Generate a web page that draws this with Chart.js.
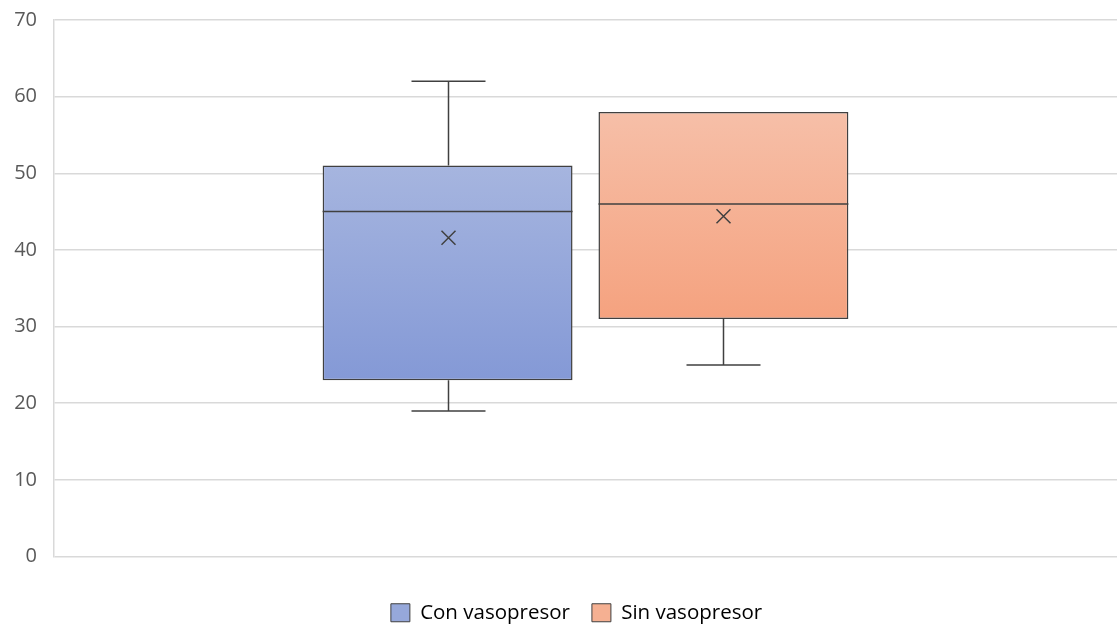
<!DOCTYPE html>
<html>
<head>
<meta charset="utf-8">
<script src="https://cdn.jsdelivr.net/npm/chart.js@4.4.1/dist/chart.umd.min.js"></script>
<style>
  html, body { margin: 0; padding: 0; background: #ffffff; }
  #wrap { width: 1117px; height: 626px; }
</style>
</head>
<body>
<div id="wrap"><canvas id="c" width="1117" height="626"></canvas></div>
<script>
// Box plot summary per group
const groups = ['Con vasopresor', 'Sin vasopresor'];
const minValues = [19, 25];
const q1Values = [23, 31];
const medianValues = [45, 46];
const q3Values = [51, 58];
const maxValues = [62, 58];
const meanValues = [41.6, 44.4];
const yTicks = [0, 10, 20, 30, 40, 50, 60, 70];

const gradStops = [
  ['#a6b5df', '#8499d6'],
  ['#f6bfa8', '#f5a27f']
];
const legendFill = ['#96a8da', '#f5b092'];
const strokeColor = '#404040';

function boxGradient(i) {
  return (ctx) => {
    const chart = ctx.chart;
    if (!chart.chartArea) return gradStops[i][0];
    const y = chart.scales.y;
    const top = y.getPixelForValue(q3Values[i]);
    const bottom = y.getPixelForValue(q1Values[i]);
    const g = chart.ctx.createLinearGradient(0, top, 0, bottom);
    g.addColorStop(0, gradStops[i][0]);
    g.addColorStop(1, gradStops[i][1]);
    return g;
  };
}

// Whiskers, median line and mean marker drawn over the floating bars
const boxExtras = {
  id: 'boxExtras',
  afterDatasetsDraw(chart) {
    const c = chart.ctx;
    const y = chart.scales.y;
    c.save();
    c.strokeStyle = strokeColor;
    c.lineWidth = 1.5;
    groups.forEach((g, i) => {
      const bar = chart.getDatasetMeta(i).data[0];
      if (!bar) return;
      const cx = Math.round(bar.x) + 0.5;
      const half = bar.width / 2;
      const cap = 37;
      const yMin = y.getPixelForValue(minValues[i]);
      const yQ1 = y.getPixelForValue(q1Values[i]);
      const yQ3 = y.getPixelForValue(q3Values[i]);
      const yMax = y.getPixelForValue(maxValues[i]);
      const yMed = y.getPixelForValue(medianValues[i]);
      const yMean = y.getPixelForValue(meanValues[i]);
      c.beginPath();
      if (maxValues[i] > q3Values[i]) {
        c.moveTo(cx, yQ3); c.lineTo(cx, yMax);
        c.moveTo(cx - cap, yMax); c.lineTo(cx + cap, yMax);
      }
      if (minValues[i] < q1Values[i]) {
        c.moveTo(cx, yQ1); c.lineTo(cx, yMin);
        c.moveTo(cx - cap, yMin); c.lineTo(cx + cap, yMin);
      }
      c.moveTo(bar.x - half, yMed); c.lineTo(bar.x + half, yMed);
      c.stroke();
      // mean marker
      const m = 7;
      c.beginPath();
      c.moveTo(cx - m, yMean - m); c.lineTo(cx + m, yMean + m);
      c.moveTo(cx + m, yMean - m); c.lineTo(cx - m, yMean + m);
      c.stroke();
    });
    c.restore();
  }
};

// Centre the legend under the plot area rather than the whole canvas
const legendShift = {
  id: 'legendShift',
  afterLayout(chart) {
    const lg = chart.legend;
    if (!lg) return;
    const dx = 18;
    lg.left += dx;
    lg.right += dx;
  }
};

new Chart(document.getElementById('c'), {
  type: 'bar',
  data: {
    labels: [''],
    datasets: groups.map((g, i) => ({
      label: g,
      data: [[q1Values[i], q3Values[i]]],
      backgroundColor: boxGradient(i),
      borderColor: strokeColor,
      borderWidth: 1.5,
      borderSkipped: false,
      categoryPercentage: 0.519,
      barPercentage: 0.906
    }))
  },
  options: {
    responsive: false,
    animation: false,
    devicePixelRatio: 1,
    layout: { padding: { top: 0, right: 0, left: 0, bottom: -7 } },
    plugins: {
      tooltip: { enabled: false },
      legend: {
        position: 'bottom',
        labels: {
          boxWidth: 19,
          boxHeight: 18,
          padding: 22,
          color: '#595959',
          font: { family: 'Open Sans', size: 20.5 },
          generateLabels: (chart) => groups.map((g, i) => ({
            text: g,
            fillStyle: legendFill[i],
            strokeStyle: strokeColor,
            lineWidth: 1,
            datasetIndex: i
          }))
        }
      }
    },
    scales: {
      x: {
        grid: { display: false },
        border: { display: false },
        ticks: { display: false },
        afterFit: (axis) => { axis.height = 24; }
      },
      y: {
        min: 0,
        max: 70,
        afterBuildTicks: (axis) => { axis.ticks = yTicks.map(v => ({ value: v })); },
        afterFit: (axis) => {
          axis.width = 54;
          axis.paddingTop = 20;
          axis.paddingBottom = 10;
        },
        grid: { color: '#d9d9d9', lineWidth: 1.5, drawTicks: false },
        border: { color: '#d9d9d9', width: 1.5 },
        ticks: {
          color: '#595959',
          padding: 17,
          font: { family: 'Open Sans', size: 20 }
        }
      }
    }
  },
  plugins: [boxExtras, legendShift]
});
</script>
</body>
</html>
